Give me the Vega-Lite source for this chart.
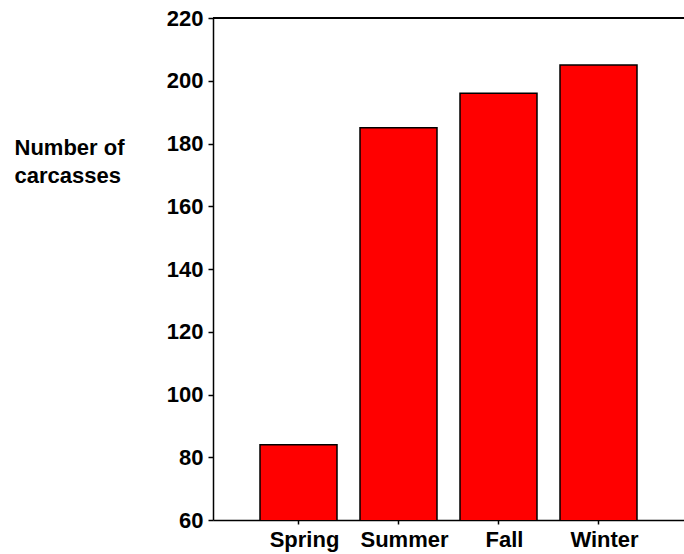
{
  "$schema": "https://vega.github.io/schema/vega-lite/v6.json",
  "width": 471,
  "height": 502,
  "autosize": {"type": "none"},
  "padding": {"left": 213, "top": 18, "right": 0, "bottom": 34},
  "background": "white",
  "config": {
    "view": {"stroke": null},
    "font": "Liberation Sans",
    "axis": {
      "domainColor": "black",
      "domainWidth": 1.5,
      "tickColor": "black",
      "tickWidth": 1.5,
      "labelFont": "Liberation Sans",
      "labelFontWeight": "bold",
      "labelFontSize": 22,
      "labelColor": "black",
      "grid": false
    }
  },
  "data": {
    "values": [
      {"season": "Spring", "carcasses": 84},
      {"season": "Summer", "carcasses": 185},
      {"season": "Fall", "carcasses": 196},
      {"season": "Winter", "carcasses": 205}
    ]
  },
  "layer": [
    {
      "mark": {"type": "bar", "color": "#ff0000", "stroke": "black", "strokeWidth": 1.5, "clip": true},
      "encoding": {
        "x": {
          "field": "season",
          "type": "nominal",
          "sort": null,
          "scale": {"paddingInner": 0.23, "paddingOuter": 0.47},
          "axis": {"title": null, "labelAngle": 0, "tickSize": 4, "labelPadding": 5, "labelOffset": 6}
        },
        "y": {
          "field": "carcasses",
          "type": "quantitative",
          "scale": {"domain": [60, 220], "nice": false, "zero": false},
          "axis": {
            "values": [60, 80, 100, 120, 140, 160, 180, 200, 220],
            "tickSize": 5,
            "labelPadding": 5,
            "title": ["Number of", "carcasses"],
            "titleAngle": 0,
            "titleAlign": "left",
            "titleBaseline": "alphabetic",
            "titleX": -199,
            "titleY": 136,
            "titleFont": "Liberation Sans",
            "titleFontWeight": "bold",
            "titleFontSize": 22,
            "titleColor": "black",
            "titleLineHeight": 28
          }
        }
      }
    },
    {
      "mark": {"type": "rule", "color": "black", "strokeWidth": 1.5},
      "encoding": {"y": {"datum": 220}}
    }
  ]
}
